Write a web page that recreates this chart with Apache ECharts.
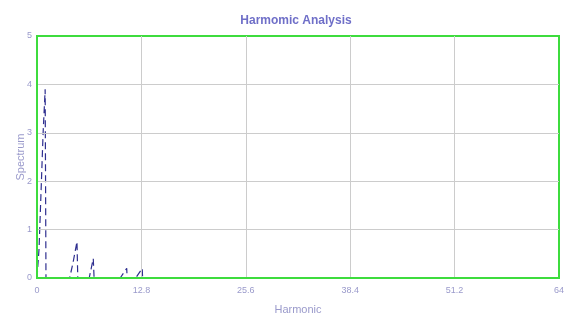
<!DOCTYPE html>
<html>
<head>
<meta charset="utf-8">
<script src="https://cdn.jsdelivr.net/npm/echarts@6/dist/echarts.min.js"></script>
<style>
  html, body { margin: 0; padding: 0; background: #ffffff; }
  #chart { width: 572px; height: 320px; }
</style>
</head>
<body>
<div id="chart"></div>
<script>
// Harmonic spectrum samples (harmonic order, amplitude)
const harmonic = [0, 0.25, 0.5, 0.75, 1.0, 1.1, 4.0, 4.4, 4.9, 5.0, 6.4, 6.9, 7.0, 10.2, 11.0, 11.05, 12.1, 12.9, 12.95, 64];
const spectrum = [0, 0.6, 1.8, 3.0, 3.9, 0, 0, 0.3, 0.75, 0, 0, 0.4, 0, 0, 0.2, 0, 0, 0.2, 0, 0];
const xTicks = [0, 12.8, 25.6, 38.4, 51.2, 64];
const yTicks = [0, 1, 2, 3, 4, 5];

const points = harmonic.map((h, i) => [h, spectrum[i]]);

const chart = echarts.init(document.getElementById('chart'), null, { renderer: 'canvas' });
const labelFont = 'Liberation Sans, Arial, sans-serif';
const labelColor = '#9a9acb';
const frameColor = '#3ddc3d';

chart.setOption({
  animation: false,
  backgroundColor: '#ffffff',
  title: {
    text: 'Harmomic Analysis',
    left: 291,
    textAlign: 'center',
    top: 10,
    textStyle: { color: '#6f6fc8', fontSize: 12, fontWeight: 'bold', fontFamily: labelFont }
  },
  grid: {
    left: 37, right: 13, top: 36, bottom: 42,
    outerBoundsMode: 'none',
    show: true, borderColor: frameColor, borderWidth: 2, backgroundColor: '#ffffff'
  },
  xAxis: {
    type: 'value',
    min: xTicks[0], max: xTicks[xTicks.length - 1], interval: xTicks[1] - xTicks[0],
    name: 'Harmonic', nameLocation: 'middle', nameGap: 26, nameMoveOverlap: false,
    nameTextStyle: { color: labelColor, fontSize: 11, fontFamily: labelFont },
    z: 5,
    axisLine: { show: true, lineStyle: { color: frameColor, width: 2 } },
    axisTick: { show: false },
    axisLabel: { color: labelColor, fontSize: 9, margin: 8, fontFamily: labelFont,
      formatter: v => String(Math.round(v * 10) / 10) },
    splitLine: { show: true, showMinLine: false, showMaxLine: false, lineStyle: { color: '#cccccc', width: 1 } }
  },
  yAxis: {
    type: 'value',
    min: yTicks[0], max: yTicks[yTicks.length - 1], interval: 1,
    name: 'Spectrum', nameLocation: 'middle', nameGap: 11, nameRotate: 90, nameMoveOverlap: false,
    nameTextStyle: { color: labelColor, fontSize: 11, fontFamily: labelFont },
    z: 5,
    axisLine: { show: true, lineStyle: { color: frameColor, width: 2 } },
    axisTick: { show: false },
    axisLabel: { color: labelColor, fontSize: 9, margin: 5, fontFamily: labelFont },
    splitLine: { show: true, showMinLine: false, showMaxLine: false, lineStyle: { color: '#cccccc', width: 1 } }
  },
  series: [{
    type: 'line',
    data: points,
    showSymbol: false,
    lineStyle: { color: '#2e2e8f', width: 1.2, type: [7, 4] },
    z: 2
  }]
});
</script>
</body>
</html>
